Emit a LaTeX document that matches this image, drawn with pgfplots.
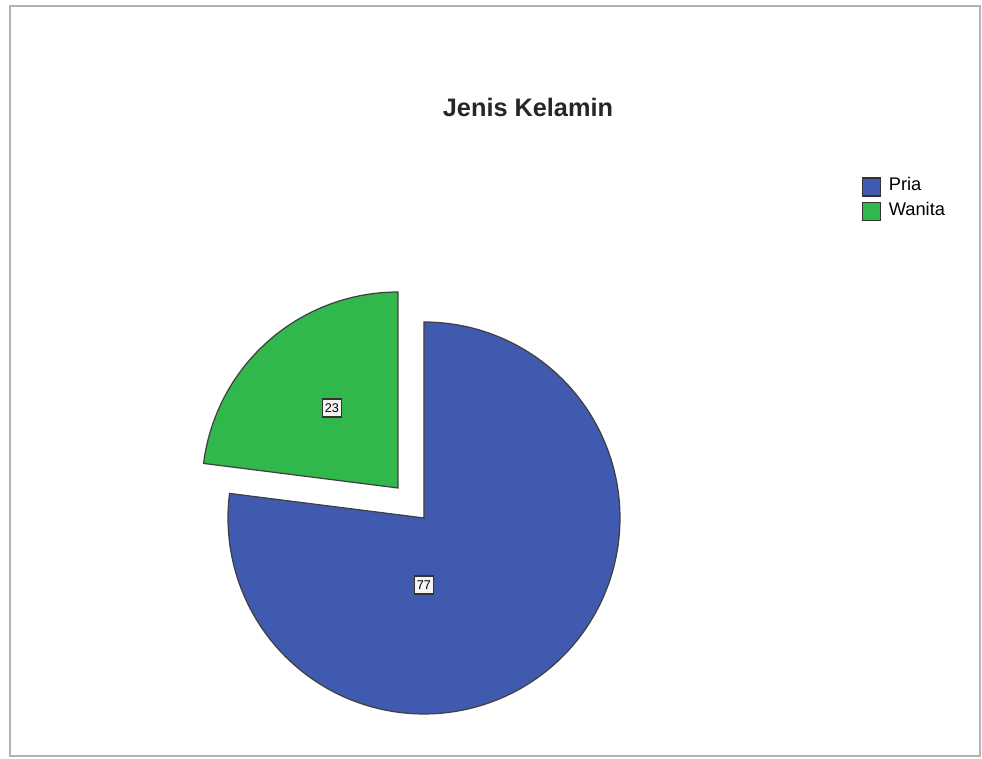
\documentclass[border=0pt]{standalone}
\usepackage{pgfplots}
\pgfplotsset{compat=1.18}
\usepackage{fontspec}
\setmainfont{Liberation Sans}
\definecolor{pieblue}{HTML}{3F5AAE}
\definecolor{piegreen}{HTML}{30B84C}
\begin{document}
\begin{tikzpicture}
\begin{axis}[
  scale only axis, width=9.82cm, height=7.59cm,
  xmin=0, xmax=982, ymin=0, ymax=759,
  hide axis, clip=false,
  /pgf/number format/assume math mode=true,
  legend style={at={(axis cs:861,589)}, anchor=north west, draw=none, fill=none,
    font=\fontsize{5.2pt}{6pt}\selectfont, inner sep=0pt, row sep=-2.4pt,
    /tikz/every odd column/.append style={column sep=0.3pt}},
  legend cell align=left,
  legend image code/.code={\draw[#1, draw=black!80, line width=0.3pt] (0cm,-0.09cm) rectangle (0.18cm,0.09cm);},
]
% page extent and frame
\path (axis cs:0,0) rectangle (axis cs:982,759);
\draw[black!30, line width=0.3pt] (axis cs:10,3) rectangle (axis cs:980,753);
% values: Pria 77, Wanita 23
\addplot[fill=pieblue, draw=black!75, line width=0.35pt, domain=90:-187.2, samples=160]
  ({424+196*cos(x)},{241+196*sin(x)}) -- (axis cs:424,241) -- cycle;
\addlegendentry{Pria}
\addplot[fill=piegreen, draw=black!75, line width=0.35pt, domain=90:172.8, samples=60]
  ({398+196*cos(x)},{271+196*sin(x)}) -- (axis cs:398,271) -- cycle;
\addlegendentry{Wanita}
% value labels
\addplot[only marks, mark=none, forget plot, point meta=explicit symbolic,
  nodes near coords, nodes near coords align={center},
  every node near coord/.append style={anchor=center, draw=black!80, fill=white!92!gray,
    line width=0.35pt, inner sep=0.7pt, minimum width=0.18cm, minimum height=0.18cm,
    font=\fontsize{3.6pt}{4pt}\selectfont}]
  coordinates {(424,174)[77] (332,351)[23]};
% title
\node[font=\bfseries\fontsize{7.2pt}{8pt}\selectfont, text=black!85] at (axis cs:528,652) {Jenis Kelamin};
\end{axis}
\end{tikzpicture}
\end{document}
